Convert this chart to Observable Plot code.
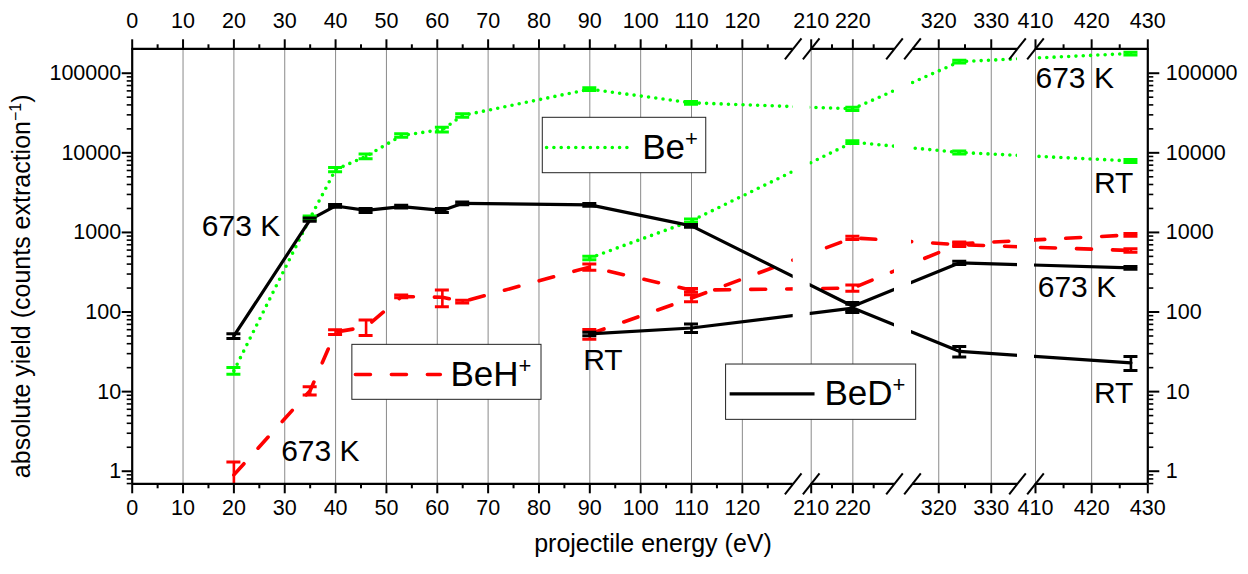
<!DOCTYPE html>
<html><head><meta charset="utf-8">
<script src="https://cdn.jsdelivr.net/npm/d3@7"></script>
<script src="https://cdn.jsdelivr.net/npm/@observablehq/plot@0.6"></script>
<style>html,body{margin:0;padding:0;background:#fff;} svg{display:block}</style>
</head><body><div id="chart"></div>
<script>
// ---------------- data ----------------
const energies673 = [20, 35, 40, 46, 53, 61, 65, 90, 110, 220, 324, 427];
const energiesRT = [90, 110, 220, 324, 427];

const bePlus673 = [18.3, 1520, 6150, 9050, 16500, 19600, 29500, 63000, 42500, 35700, 140000, 177000];
const bePlus673Err = [0.1, 0.06, 0.06, 0.07, 0.05, 0.07, 0.05, 0.04, 0.04, 0.05, 0.04, 0.04];
const bePlusRT = [478, 1400, 13600, 10100, 7900];
const bePlusRTErr = [0.05, 0.05, 0.04, 0.04, 0.04];

const beD673 = [50, 1450, 2150, 1890, 2110, 1890, 2320, 2220, 1210, 118, 415, 358];
const beD673Err = [0.07, 0.05, 0.04, 0.06, 0.04, 0.06, 0.04, 0.04, 0.04, 0.12, 0.05, 0.04];
const beDRT = [53, 63, 112, 32, 23];
const beDRTErr = [0.05, 0.12, 0.12, 0.15, 0.2];

const beH673 = [0.9, 10.3, 56, 65, 157, 153, 135, 368, 188, 200, 720, 930];
const beH673Err = [0.45, 0.12, 0.07, 0.22, 0.04, 0.24, 0.04, 0.09, 0.05, 0.09, 0.05, 0.04];
const beHRT = [53, 150, 855, 700, 593];
const beHRTErr = [0.14, 0.1, 0.05, 0.05, 0.05];

// broken x axis: energy ranges shown
const segments = [[0, 130], [210, 230], [315, 335], [410, 430]];
const xMajorTicks = [0, 10, 20, 30, 40, 50, 60, 70, 80, 90, 100, 110, 120, 210, 220, 320, 330, 410, 420, 430];
const xMinorTicks = [5, 15, 25, 35, 45, 55, 65, 75, 85, 95, 105, 115, 125, 215, 225, 325, 415, 425];
const yMajorTicks = [1, 10, 100, 1000, 10000, 100000];

// annotations
const annotLabels = ["673 K", "673 K", "RT", "673 K", "RT", "673 K", "RT"];
const annotE = [13.7, 29.3, 88.7, 410, 420.4, 410.4, 420.4];
const annotV = [1190, 1.78, 25, 86500, 4080, 205, 9.4];

// legends (in data coordinates)
const legendKeys = ["Be+", "BeH+", "BeD+"];
const legendBoxE1 = [80.75, 43.3, 116.8];
const legendBoxE2 = [112.9, 80.5, 315.7];
const legendBoxVTop = [27540, 38.7, 21.9];
const legendBoxVBottom = [5545, 7.89, 4.42];
const legendLineE1 = [81.5, 43.9, 117.5];
const legendLineE2 = [98.0, 60.6, 210.8];
const legendLineV = [11660, 16.4, 9.38];
const legendTextE = [100.3, 62.6, 213.2];

// ---------------- layout / style ----------------
const segWidths = [661, 83.3, 105, 112.3];
const gap = 18;
const yMin = 0.695, yMax = 202700;
const FONT = "'Liberation Sans', Arial, Helvetica, sans-serif";
const TICK_FS = 21.5;
const capHalf = 7;
const sty = {
  "Be+": {stroke: "#00ff00", strokeWidth: 3.6, strokeDasharray: "0 7.3", strokeLinecap: "round"},
  "BeH+": {stroke: "#ff0000", strokeWidth: 3.6, strokeDasharray: "15 21", strokeLinecap: "round"},
  "BeD+": {stroke: "#000000", strokeWidth: 3.2}
};

function f(e) {
  let pos = 0;
  for (let k = 0; k < segments.length; k++) {
    const [a, b] = segments[k], w = segWidths[k];
    if (e <= b || k === segments.length - 1) {
      if (e < a && k > 0) {
        const pa = segments[k - 1][1];
        return pos - gap + gap * (e - pa) / (a - pa);
      }
      return pos + w * (e - a) / (b - a);
    }
    pos += w + gap;
  }
}
const W = segWidths.reduce((s, w) => s + w, 0) + gap * (segments.length - 1);

const series = [
  {species: "Be+", temp: "673 K", e: energies673, v: bePlus673, err: bePlus673Err},
  {species: "Be+", temp: "RT", e: energiesRT, v: bePlusRT, err: bePlusRTErr},
  {species: "BeH+", temp: "673 K", e: energies673, v: beH673, err: beH673Err},
  {species: "BeH+", temp: "RT", e: energiesRT, v: beHRT, err: beHRTErr},
  {species: "BeD+", temp: "673 K", e: energies673, v: beD673, err: beD673Err},
  {species: "BeD+", temp: "RT", e: energiesRT, v: beDRT, err: beDRTErr}
];
const rows = series.flatMap(s => s.e.map((e, i) => ({species: s.species, temp: s.temp, e, v: s.v[i], err: s.err[i]})));
const annots = annotLabels.map((t, i) => ({t, e: annotE[i], v: annotV[i]}));
const legends = legendKeys.map((k, i) => ({key: k, bx1: legendBoxE1[i], bx2: legendBoxE2[i], vt: legendBoxVTop[i], vb: legendBoxVBottom[i], lx1: legendLineE1[i], lx2: legendLineE2[i], lv: legendLineV[i], tx: legendTextE[i]}));
const gaps = segments.slice(1).map((s, k) => [segments[k][1], s[0]]);
const breakEdges = segments.flatMap((s, k) => k === 0 ? [s[1]] : k === segments.length - 1 ? [s[0]] : [s[0], s[1]]);
const yMinor = [];
for (let d = -1; d <= 5; d++) for (let m = 2; m <= 9; m++) { const v = m * 10 ** d; if (v > yMin && v < yMax * 0.98) yMinor.push(v); }
const xLabel = new Map(xMajorTicks.map(e => [f(e), String(e)]));
const slash = {draw(ctx) { ctx.moveTo(-8.3, 10.5); ctx.lineTo(8.3, -10.5); }};
const xs = d => f(d.e);
const lo = d => d.v * (1 - d.err), hi = d => d.v * (1 + d.err);
const col = d => sty[d.species].stroke;

const plot = Plot.plot({
  width: 1248, height: 574,
  marginLeft: 131.7, marginRight: 100.7, marginTop: 48.3, marginBottom: 90.7,
  style: {fontFamily: FONT, fontSize: "21px", background: "white", color: "black", overflow: "visible"},
  x: {type: "linear", domain: [0, W], axis: null},
  y: {type: "log", domain: [yMin, yMax], axis: null},
  color: {type: "identity"},
  marks: [
    Plot.ruleX(xMajorTicks.filter(t => t > 0 && t < 430), {x: e => f(e), stroke: "#8a8a8a", strokeWidth: 1}),
    ...legendKeys.map(k => Plot.line(rows.filter(r => r.species === k), {x: xs, y: "v", z: "temp", ...sty[k]})),
    Plot.rect(gaps, {x1: d => f(d[0]), x2: d => f(d[1]), y1: yMin, y2: yMax, fill: "white", insetRight: 1}),
    Plot.ruleX(rows, {x: xs, y1: lo, y2: hi, stroke: col, strokeWidth: 2.6, clip: true}),
    Plot.ruleY(rows, {y: lo, x1: d => f(d.e) - capHalf, x2: d => f(d.e) + capHalf, stroke: col, strokeWidth: 3, clip: true}),
    Plot.ruleY(rows, {y: hi, x1: d => f(d.e) - capHalf, x2: d => f(d.e) + capHalf, stroke: col, strokeWidth: 3, clip: true}),
    // frame (broken)
    Plot.ruleY(segments, {y: yMin, x1: d => f(d[0]), x2: d => f(d[1]), strokeWidth: 2.2}),
    Plot.ruleY(segments, {y: yMax, x1: d => f(d[0]), x2: d => f(d[1]), strokeWidth: 2.2}),
    Plot.ruleX([0, 430], {x: e => f(e), y1: yMin, y2: yMax, strokeWidth: 2.2}),
    Plot.dot(breakEdges, {x: e => f(e), y: yMin, symbol: slash, stroke: "black", fill: "none", strokeWidth: 2}),
    Plot.dot(breakEdges, {x: e => f(e), y: yMax, symbol: slash, stroke: "black", fill: "none", strokeWidth: 2}),
    // axes
    Plot.axisX(xMajorTicks.map(e => f(e)), {anchor: "bottom", tickSize: 10, tickPadding: 6, strokeWidth: 2, fontSize: TICK_FS, tickFormat: d => xLabel.get(d), label: null}),
    Plot.axisX(xMinorTicks.map(e => f(e)), {anchor: "bottom", tickSize: 5, strokeWidth: 2, tickFormat: () => "", label: null}),
    Plot.axisX(xMajorTicks.map(e => f(e)), {anchor: "top", tickSize: 10, tickPadding: 11, strokeWidth: 2, fontSize: TICK_FS, tickFormat: d => xLabel.get(d), label: null}),
    Plot.axisX(xMinorTicks.map(e => f(e)), {anchor: "top", tickSize: 5, strokeWidth: 2, tickFormat: () => "", label: null}),
    Plot.axisY(yMajorTicks, {anchor: "left", tickSize: 10, tickPadding: 1, strokeWidth: 2, fontSize: TICK_FS, tickFormat: d => String(d), label: null}),
    Plot.axisY(yMinor, {anchor: "left", tickSize: 5, strokeWidth: 1.6, tickFormat: () => "", label: null}),
    Plot.axisY(yMajorTicks, {anchor: "right", tickSize: 11, tickPadding: 7, strokeWidth: 2, fontSize: TICK_FS, tickFormat: d => String(d), label: null}),
    Plot.axisY(yMinor, {anchor: "right", tickSize: 5, strokeWidth: 1.6, tickFormat: () => "", label: null}),
    // legends
    Plot.rect(legends, {x1: d => f(d.bx1), x2: d => f(d.bx2), y1: "vt", y2: "vb", fill: "white", stroke: "#222", strokeWidth: 1}),
    ...legendKeys.map(k => Plot.link(legends.filter(d => d.key === k), {x1: d => f(d.lx1), x2: d => f(d.lx2), y1: "lv", y2: "lv", ...sty[k]})),
    Plot.text(legends, {x: d => f(d.tx), y: "lv", text: "key", textAnchor: "start", fontSize: 35, className: "suplegend"}),
    // annotations
    Plot.text(annots, {x: d => f(d.e), y: "v", text: "t", textAnchor: "start", fontSize: 30}),
    // axis titles
    Plot.text(["absolute yield (counts extraction"], {frameAnchor: "left", textAnchor: "middle", dx: -110, dy: 20, rotate: -90, fontSize: 25, className: "ytitle"}),
    Plot.text(["projectile energy (eV)"], {frameAnchor: "bottom", textAnchor: "middle", dx: 13, dy: 68, fontSize: 25})
  ]
});
document.getElementById("chart").appendChild(plot);

// superscripts
d3.select(plot).selectAll("g.suplegend text").each(function () {
  const t = d3.select(this); const s = t.text();
  t.text(null);
  t.append("tspan").text(s.slice(0, -1));
  t.append("tspan").attr("dy", -13).attr("font-size", 22).text("+");
});
d3.select(plot).selectAll("g.ytitle text").each(function () {
  const t = d3.select(this); const s = t.text();
  t.text(null);
  t.append("tspan").text(s);
  t.append("tspan").attr("dy", -9).attr("font-size", 16).text("\u22121");
  t.append("tspan").attr("dy", 9).text(")");
});
</script>
</body></html>
